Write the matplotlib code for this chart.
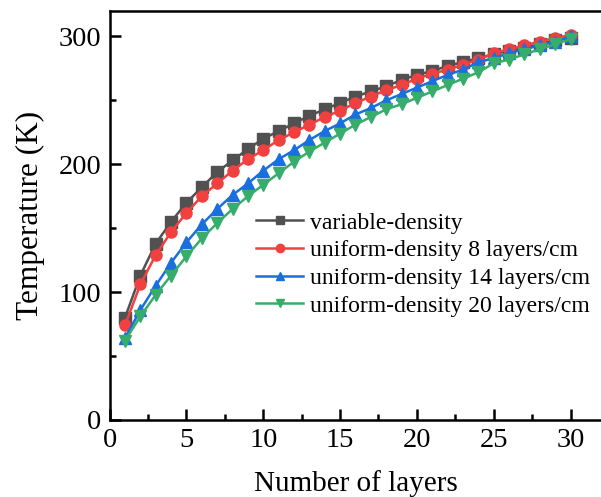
import matplotlib
matplotlib.use("Agg")
import matplotlib.pyplot as plt
from matplotlib.ticker import MultipleLocator

plt.rcParams['font.family'] = ['Liberation Serif', 'DejaVu Serif']
plt.rcParams['mathtext.fontset'] = 'stix'

layers = list(range(1, 31))

variable_density = [80, 113, 138, 155, 170, 182, 194, 203, 212, 220,
                    226, 232, 238, 243, 248, 253, 257, 261, 266, 270,
                    273, 277, 280, 283, 286, 289, 291, 294, 297, 299]
uniform_8 = [74, 106, 129, 147, 162, 175, 185, 195, 204, 211,
             219, 225, 231, 237, 242, 248, 253, 258, 262, 267,
             271, 274, 278, 282, 287, 290, 293, 296, 299, 301]
uniform_14 = [64, 86, 105, 123, 139, 153, 165, 176, 185, 195,
              204, 211, 219, 226, 232, 239, 244, 250, 255, 260,
              265, 270, 274, 280, 283, 287, 290, 293, 296, 300]
uniform_20 = [62, 81, 98, 113, 128, 142, 154, 165, 175, 184,
              193, 202, 210, 217, 224, 231, 237, 243, 247, 252,
              257, 262, 267, 272, 279, 282, 286, 290, 294, 298]

series = [
    (variable_density, 'variable-density', '#515151', 's'),
    (uniform_8, 'uniform-density 8 layers/cm', '#F14040', 'o'),
    (uniform_14, 'uniform-density 14 layers/cm', '#1A6FDF', '^'),
    (uniform_20, 'uniform-density 20 layers/cm', '#37AD6B', 'v'),
]

fig = plt.figure(figsize=(6.01, 4.97), dpi=100)
ax = fig.add_axes([0.1824, 0.155, 0.818, 0.823])

for vals, name, col, mk in series:
    ax.plot(layers, vals, color=col, marker=mk, markersize=8, lw=1.8, label=name)

ax.set_xlim(0, 32)
ax.set_ylim(0, 320)
ax.xaxis.set_major_locator(MultipleLocator(5))
ax.xaxis.set_minor_locator(MultipleLocator(2.5))
ax.yaxis.set_major_locator(MultipleLocator(100))
ax.yaxis.set_minor_locator(MultipleLocator(50))
ax.tick_params(which='both', direction='in', width=1.8, labelsize=20.5)
ax.tick_params(which='major', length=8, pad=6)
ax.tick_params(which='minor', length=4)
ax.spines['right'].set_visible(False)
for s in ['left', 'bottom', 'top']:
    ax.spines[s].set_linewidth(1.8)

ax.set_xlabel('Number of layers', fontsize=21, labelpad=12)
ax.set_ylabel('Temperature (K)', fontsize=22.5, labelpad=10)

ax.legend(loc='upper left', bbox_to_anchor=(0.298, 0.508), frameon=False,
          fontsize=17, handlelength=2.0, handletextpad=0.3,
          labelspacing=0.26, borderaxespad=0, borderpad=0, markerscale=0.75)

fig.savefig('out.png', dpi=100)
